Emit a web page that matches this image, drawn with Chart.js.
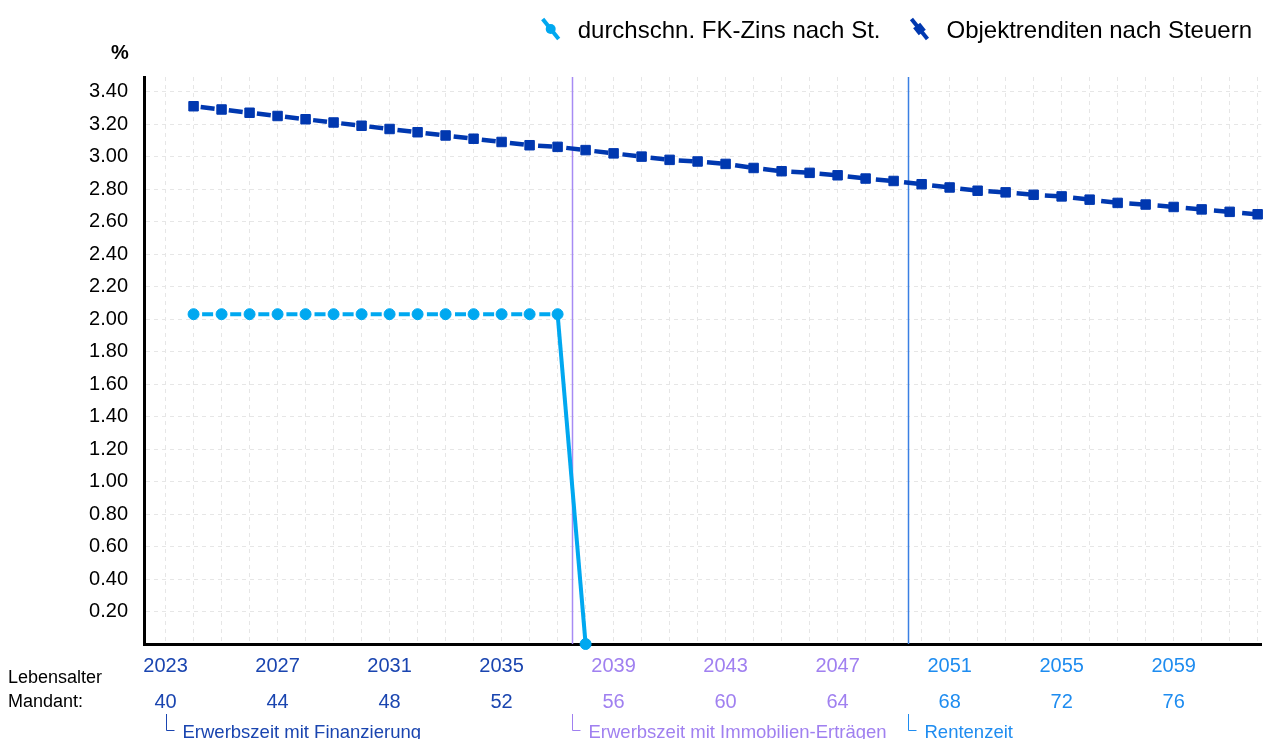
<!DOCTYPE html>
<html>
<head>
<meta charset="utf-8">
<title>Objektrenditen</title>
<script src="https://cdn.jsdelivr.net/npm/chart.js@4.4.0/dist/chart.umd.min.js"></script>
<style>
    html, body { margin: 0; padding: 0; background: #fff; }
    #wrap { width: 1269px; height: 739px; position: relative; }
</style>
</head>
<body>
<div id="wrap"><canvas id="renditeChart"></canvas></div>
<script>
(function () {
    "use strict";

    // Daten
    var jahre = [2024, 2025, 2026, 2027, 2028, 2029, 2030, 2031, 2032, 2033,
                 2034, 2035, 2036, 2037, 2038, 2039, 2040, 2041, 2042, 2043,
                 2044, 2045, 2046, 2047, 2048, 2049, 2050, 2051, 2052, 2053,
                 2054, 2055, 2056, 2057, 2058, 2059, 2060, 2061, 2062];
    var objektrenditen = [3.31, 3.29, 3.27, 3.25, 3.23, 3.21, 3.19, 3.17, 3.15, 3.13,
                          3.11, 3.09, 3.07, 3.06, 3.04, 3.02, 3.00, 2.98, 2.97, 2.955,
                          2.93, 2.91, 2.90, 2.885, 2.865, 2.85, 2.83, 2.81, 2.79, 2.78,
                          2.765, 2.755, 2.735, 2.715, 2.705, 2.69, 2.675, 2.66, 2.645];
    var fkJahre = [2024, 2025, 2026, 2027, 2028, 2029, 2030, 2031, 2032, 2033,
                   2034, 2035, 2036, 2037, 2038];
    var fkZins = [2.03, 2.03, 2.03, 2.03, 2.03, 2.03, 2.03, 2.03, 2.03, 2.03,
                  2.03, 2.03, 2.03, 2.03, 0];

    // Achsen
    var gitterJahre = [2023, 2024, 2025, 2026, 2027, 2028, 2029, 2030, 2031, 2032,
                       2033, 2034, 2035, 2036, 2037, 2038, 2039, 2040, 2041, 2042,
                       2043, 2044, 2045, 2046, 2047, 2048, 2049, 2050, 2051, 2052,
                       2053, 2054, 2055, 2056, 2057, 2058, 2059, 2060, 2061, 2062];
    var labelJahre = [2023, 2027, 2031, 2035, 2039, 2043, 2047, 2051, 2055, 2059];
    var lebensalter = [40, 44, 48, 52, 56, 60, 64, 68, 72, 76];

    // Phasen
    var phasenStart = [2023, 2037.5, 2049.5];
    var phasenNamen = ["Erwerbszeit mit Finanzierung", "Erwerbszeit mit Immobilien-Erträgen", "Rentenzeit"];
    var phasenFarben = ["#1a45b0", "#a080f0", "#1e8cf0"];
    var phasenLinien = [null, "#a78bf4", "#3a7fe3"];

    var legendNamen = ["durchschn. FK-Zins nach St.", "Objektrenditen nach Steuern"];

    var FONT = '"Liberation Sans", Arial, sans-serif';
    var DUNKEL = "#0038b0";
    var HELL = "#00a8f0";

    Chart.defaults.font.family = FONT;
    Chart.defaults.color = "#000";

    function phasenFarbe(v) {
        var c = phasenFarben[0];
        phasenStart.forEach(function (s, i) {
            if (v >= s) c = phasenFarben[i];
        });
        return c;
    }

    // Legende, Phasen, Beschriftungen
    var deko = {
        id: "deko",
        beforeDatasetsDraw: function (chart) {
            var ctx = chart.ctx, area = chart.chartArea, xs = chart.scales.x;
            ctx.save();
            ctx.lineWidth = 1.5;
            phasenStart.forEach(function (s, i) {
                if (!phasenLinien[i]) return;
                var x = Math.round(xs.getPixelForValue(s)) + 0.5;
                ctx.strokeStyle = phasenLinien[i];
                ctx.beginPath();
                ctx.moveTo(x, area.top);
                ctx.lineTo(x, area.bottom);
                ctx.stroke();
            });
            ctx.restore();
        },
        afterDraw: function (chart) {
            var ctx = chart.ctx, xs = chart.scales.x;
            ctx.save();

            // "%"
            ctx.fillStyle = "#000";
            ctx.font = "bold 20px " + FONT;
            ctx.textAlign = "center";
            ctx.textBaseline = "middle";
            ctx.fillText("%", 120, 53);

            // Lebensalter Mandant
            ctx.font = "18px " + FONT;
            ctx.textAlign = "left";
            ctx.fillText("Lebensalter", 8, 678);
            ctx.fillText("Mandant:", 8, 702);

            // Phasen
            ctx.font = "18.5px " + FONT;
            ctx.textBaseline = "alphabetic";
            phasenStart.forEach(function (s, i) {
                var x = Math.round(xs.getPixelForValue(s)) + 0.5;
                ctx.strokeStyle = phasenFarben[i];
                ctx.fillStyle = phasenFarben[i];
                ctx.lineWidth = 1;
                ctx.beginPath();
                ctx.moveTo(x, 714);
                ctx.lineTo(x, 730.5);
                ctx.lineTo(x + 8, 730.5);
                ctx.stroke();
                ctx.fillText(phasenNamen[i], x + 16, 737.5);
            });

            // Legende
            ctx.font = "24px " + FONT;
            ctx.textBaseline = "middle";
            var rechts = 1252;
            var pos = [];
            for (var i = legendNamen.length - 1; i >= 0; i--) {
                var w = ctx.measureText(legendNamen[i]).width;
                var tx = rechts - w;
                pos[i] = tx;
                rechts = tx - 28 - 10 - 28;
            }
            legendNamen.forEach(function (name, i) {
                var tx = pos[i];
                var cx = tx - 27, cy = 29;
                var farbe = i === 0 ? HELL : DUNKEL;
                ctx.strokeStyle = farbe;
                ctx.fillStyle = farbe;
                ctx.lineWidth = 4;
                ctx.beginPath();
                ctx.moveTo(cx - 8, cy - 10);
                ctx.lineTo(cx + 8, cy + 10);
                ctx.stroke();
                if (i === 0) {
                    ctx.beginPath();
                    ctx.arc(cx, cy, 5, 0, Math.PI * 2);
                    ctx.fill();
                } else {
                    ctx.save();
                    ctx.translate(cx, cy);
                    ctx.rotate(Math.atan2(10, 8));
                    ctx.fillRect(-4.5, -4.5, 9, 9);
                    ctx.restore();
                }
                ctx.fillStyle = "#000";
                ctx.fillText(name, tx, 31);
            });

            ctx.restore();
        }
    };

    var ctx = document.getElementById("renditeChart").getContext("2d");
    var renditeChart = new Chart(ctx, {
        type: "line",
        data: {
            datasets: [{
                label: legendNamen[0],
                data: fkJahre.map(function (j, i) { return { x: j, y: fkZins[i] }; }),
                borderColor: HELL,
                backgroundColor: HELL,
                borderWidth: 4,
                borderDash: [11, 17.1],
                borderDashOffset: 19.55,
                pointStyle: "circle",
                pointRadius: 5.5,
                pointBorderWidth: 1,
                pointHoverRadius: 5.5,
                tension: 0,
                clip: false,
                segment: {
                    borderDash: function (c) {
                        return c.p1DataIndex === fkZins.length - 1 ? [] : undefined;
                    }
                }
            }, {
                label: legendNamen[1],
                data: jahre.map(function (j, i) { return { x: j, y: objektrenditen[i] }; }),
                borderColor: DUNKEL,
                backgroundColor: DUNKEL,
                borderWidth: 4.5,
                borderDash: [14, 14.3],
                borderDashOffset: 21.15,
                pointStyle: "rect",
                pointRadius: 6.7,
                pointBorderWidth: 1,
                pointHoverRadius: 6.7,
                tension: 0,
                clip: false
            }]
        },
        options: {
            responsive: true,
            maintainAspectRatio: false,
            animation: false,
            layout: { padding: { top: 77, right: 1, left: 0, bottom: 0 } },
            plugins: {
                legend: { display: false },
                tooltip: { enabled: false }
            },
            scales: {
                x: {
                    type: "linear",
                    min: 2022.23,
                    max: 2062.13,
                    afterBuildTicks: function (axis) {
                        axis.ticks = gitterJahre.map(function (v) { return { value: v }; });
                    },
                    afterFit: function (axis) {
                        axis.height = 95;
                    },
                    grid: {
                        color: "#e6e6e6",
                        lineWidth: 1,
                        drawTicks: true,
                        tickLength: 4,
                        tickColor: "rgba(0,0,0,0)"
                    },
                    border: { display: true, color: "#000", width: 3, dash: [4, 4] },
                    ticks: {
                        autoSkip: false,
                        maxRotation: 0,
                        padding: 0,
                        font: { size: 20, lineHeight: 1.8 },
                        color: function (c) { return phasenFarbe(c.tick.value); },
                        callback: function (value) {
                            var idx = labelJahre.indexOf(value);
                            if (idx < 0) return "";
                            return [String(value), String(lebensalter[idx])];
                        }
                    }
                },
                y: {
                    min: 0,
                    max: 3.49,
                    afterFit: function (axis) { axis.width = 144; },
                    grid: {
                        color: "#e6e6e6",
                        lineWidth: 1,
                        drawTicks: false
                    },
                    border: { display: true, color: "#000", width: 3, dash: [4, 4] },
                    ticks: {
                        stepSize: 0.2,
                        includeBounds: false,
                        padding: 16,
                        color: "#000",
                        font: { size: 20 },
                        callback: function (value) {
                            return value < 0.1 ? "" : value.toFixed(2);
                        }
                    }
                }
            }
        },
        plugins: [deko]
    });
})();
</script>
</body>
</html>
